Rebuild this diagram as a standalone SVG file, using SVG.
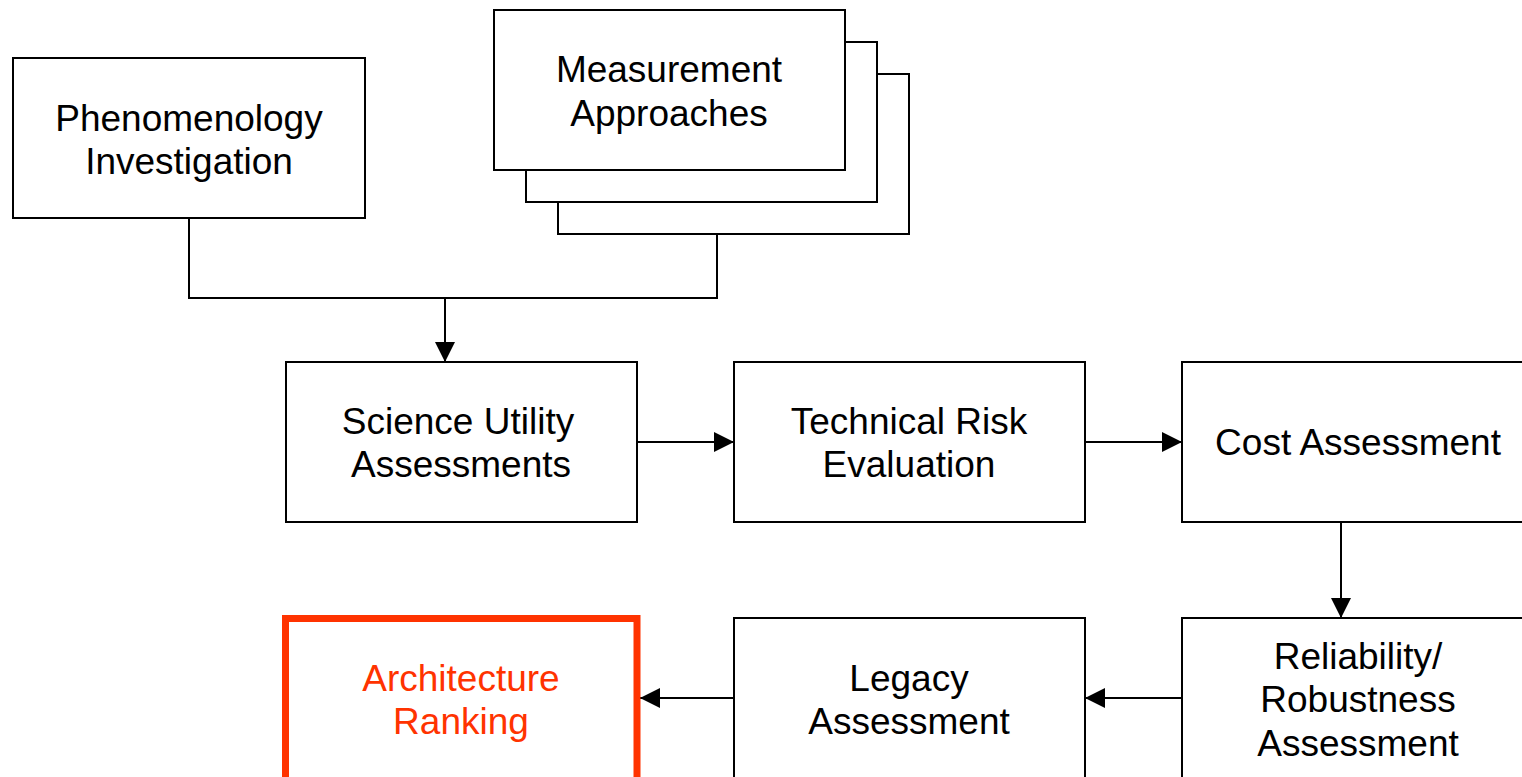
<svg xmlns="http://www.w3.org/2000/svg" width="1522" height="777" viewBox="0 0 1522 777">
  <style>
    .box { fill: #ffffff; stroke: #000000; stroke-width: 2; }
    .hot { fill: #ffffff; stroke: #ff3300; stroke-width: 7; }
    .lbl { font-family: "Liberation Sans", Arial, sans-serif; font-size: 37px; fill: #000000; text-anchor: middle; }
    .lbl-hot { fill: #ff3300; }
    .wire { fill: none; stroke: #000000; stroke-width: 2; }
  </style>
  <defs>
    <marker id="arrow" markerUnits="userSpaceOnUse" markerWidth="20" markerHeight="20" viewBox="0 0 20 20" refX="20" refY="10" orient="auto">
      <path d="M0,0 L20,10 L0,20 Z" fill="#000000"/>
    </marker>
  </defs>
  <rect width="1522" height="777" fill="#ffffff"/>

  <g id="connectors">
    <polyline class="wire" points="189,218 189,298 717,298 717,234"/>
    <line class="wire" x1="445" y1="298" x2="445" y2="362" marker-end="url(#arrow)"/>
    <line class="wire" x1="637" y1="442" x2="734" y2="442" marker-end="url(#arrow)"/>
    <line class="wire" x1="1085" y1="442" x2="1182" y2="442" marker-end="url(#arrow)"/>
    <line class="wire" x1="1341" y1="522" x2="1341" y2="618" marker-end="url(#arrow)"/>
    <line class="wire" x1="1182" y1="698" x2="1085" y2="698" marker-end="url(#arrow)"/>
    <line class="wire" x1="734" y1="698" x2="640" y2="698" marker-end="url(#arrow)"/>
  </g>

  <g id="phenomenology">
    <rect class="box" x="13" y="58" width="352" height="160"/>
    <text class="lbl" x="189" y="131">Phenomenology</text>
    <text class="lbl" x="189" y="174">Investigation</text>
  </g>

  <g id="measurement">
    <rect class="box" x="558" y="74" width="351" height="160"/>
    <rect class="box" x="526" y="42" width="351" height="160"/>
    <rect class="box" x="494" y="10" width="351" height="160"/>
    <text class="lbl" x="669" y="82">Measurement</text>
    <text class="lbl" x="669" y="126">Approaches</text>
  </g>

  <g id="science-utility">
    <rect class="box" x="286" y="362" width="351" height="160"/>
    <text class="lbl" x="458" y="434">Science Utility</text>
    <text class="lbl" x="461" y="477">Assessments</text>
  </g>

  <g id="technical-risk">
    <rect class="box" x="734" y="362" width="351" height="160"/>
    <text class="lbl" x="909" y="434">Technical Risk</text>
    <text class="lbl" x="909" y="477">Evaluation</text>
  </g>

  <g id="cost">
    <rect class="box" x="1182" y="362" width="351" height="160"/>
    <text class="lbl" x="1358" y="455">Cost Assessment</text>
  </g>

  <g id="reliability">
    <rect class="box" x="1182" y="618" width="351" height="170"/>
    <text class="lbl" x="1358" y="669">Reliability/</text>
    <text class="lbl" x="1358" y="712">Robustness</text>
    <text class="lbl" x="1358" y="756">Assessment</text>
  </g>

  <g id="legacy">
    <rect class="box" x="734" y="618" width="351" height="170"/>
    <text class="lbl" x="909" y="691">Legacy</text>
    <text class="lbl" x="909" y="734">Assessment</text>
  </g>

  <g id="architecture-ranking">
    <rect class="hot" x="285.5" y="618.5" width="351.5" height="170"/>
    <text class="lbl lbl-hot" x="461" y="691">Architecture</text>
    <text class="lbl lbl-hot" x="461" y="734">Ranking</text>
  </g>
</svg>
